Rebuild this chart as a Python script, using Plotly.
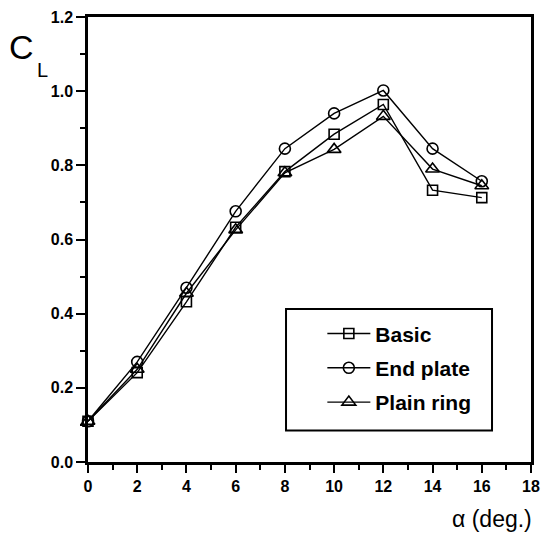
import plotly.graph_objects as go

# Angle of attack (deg.) and lift coefficient for each configuration
alpha = [0, 2, 4, 6, 8, 10, 12, 14, 16]
cl_basic = [0.11, 0.241, 0.432, 0.633, 0.783, 0.884, 0.964, 0.733, 0.713]
cl_end_plate = [0.11, 0.27, 0.47, 0.676, 0.845, 0.94, 1.002, 0.845, 0.757]
cl_plain_ring = [0.11, 0.25, 0.455, 0.626, 0.78, 0.843, 0.932, 0.79, 0.745]

series_names = ["Basic", "End plate", "Plain ring"]
series_values = [cl_basic, cl_end_plate, cl_plain_ring]
series_symbols = ["square-open", "circle-open", "triangle-up-open"]
series_sizes = [10, 11, 12]

x_ticks = list(range(0, 19, 2))
y_ticks = [0.0, 0.2, 0.4, 0.6, 0.8, 1.0, 1.2]

FONT = "Liberation Sans, Arial, Helvetica, sans-serif"

fig = go.Figure()
for name, vals, sym, sz in zip(series_names, series_values, series_symbols, series_sizes):
    fig.add_trace(go.Scatter(
        x=alpha, y=vals, name=name, legendgroup=name, mode="lines+markers",
        line=dict(color="black", width=1.4),
        marker=dict(symbol=sym, size=sz, color="black",
                    line=dict(color="black", width=1.6)),
        cliponaxis=False,
    ))

axis_common = dict(
    showline=True, linecolor="black", linewidth=2.5, mirror=True,
    ticks="outside", tickcolor="black", tickwidth=2,
    showgrid=False, zeroline=False, layer="below traces",
    tickfont=dict(family=FONT, size=16, color="black", weight="bold"),
)

fig.update_xaxes(
    range=[0, 18], tickmode="array", tickvals=x_ticks,
    ticktext=[str(v) for v in x_ticks], ticklen=8,
    minor=dict(dtick=1, ticks="outside", ticklen=5, tickwidth=2, tickcolor="black"),
    **axis_common,
)
fig.update_yaxes(
    range=[0, 1.2], tickmode="array", tickvals=y_ticks,
    ticktext=[f"{v:.1f}" for v in y_ticks], ticklen=9,
    minor=dict(dtick=0.1, ticks="outside", ticklen=5, tickwidth=2, tickcolor="black"),
    **axis_common,
)

# Y-axis label C_L, drawn as a large C with a smaller subscript L
fig.add_annotation(
    text="C", xref="paper", yref="paper",
    x=-0.183, y=0.933, xanchor="left", yanchor="middle", showarrow=False,
    font=dict(family=FONT, size=34, color="black"),
)
fig.add_annotation(
    text="L", xref="paper", yref="paper",
    x=-0.12, y=0.88, xanchor="left", yanchor="middle", showarrow=False,
    font=dict(family=FONT, size=20, color="black"),
)
fig.add_annotation(
    text="α (deg.)", xref="paper", yref="paper",
    x=1.007, y=-0.129, xanchor="right", yanchor="middle", showarrow=False,
    font=dict(family=FONT, size=23, color="black"),
)

# Legend frame
fig.add_shape(
    type="rect", xref="paper", yref="paper",
    x0=0.447, x1=0.912, y0=0.071, y1=0.344,
    line=dict(color="black", width=2), fillcolor="rgba(0,0,0,0)",
)

fig.update_layout(
    width=549, height=533,
    margin=dict(l=88, r=9, t=12, b=71),
    paper_bgcolor="white", plot_bgcolor="white",
    showlegend=True,
    legend=dict(
        x=0.529, y=0.334, xanchor="left", yanchor="top",
        borderwidth=0, bgcolor="rgba(0,0,0,0)",
        font=dict(family=FONT, size=21, color="black", weight="bold"),
        itemwidth=43, tracegroupgap=4, traceorder="grouped",
    ),
)

fig.write_html("out.html")
